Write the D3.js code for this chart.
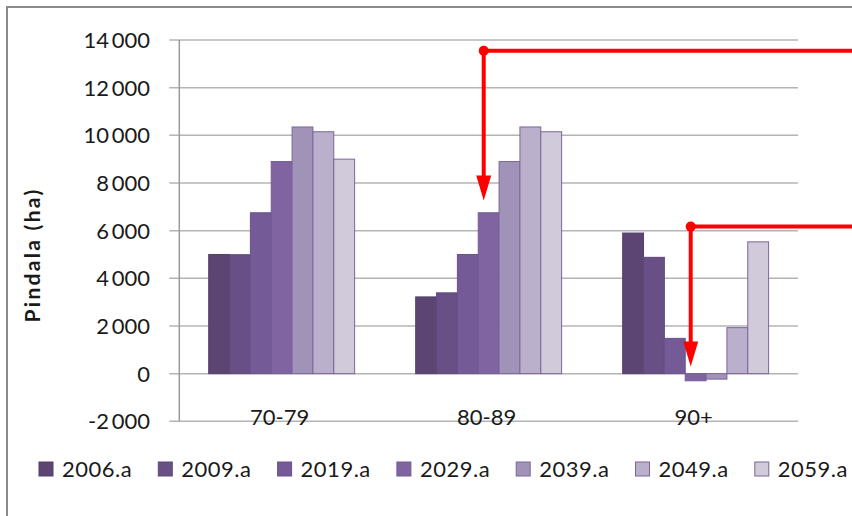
<!DOCTYPE html>
<html>
<head>
<meta charset="utf-8">
<script src="https://cdn.jsdelivr.net/npm/d3@7"></script>
<style>
  body { margin: 0; background: #fff; }
  text { font-family: Lato, "Open Sans", sans-serif; fill: #1a1a1a; }
</style>
</head>
<body>
<div id="chart"></div>
<script>
// age classes on the x axis
var categories = ["70-79", "80-89", "90+"];
// one series per year
var seriesNames = ["2006.a", "2009.a", "2019.a", "2029.a", "2039.a", "2049.a", "2059.a"];
// area (ha) per year, order follows categories
var v2006 = [5000, 3220, 5900];
var v2009 = [4990, 3390, 4880];
var v2019 = [6750, 5000, 1480];
var v2029 = [8900, 6750, -300];
var v2039 = [10350, 8900, -230];
var v2049 = [10150, 10350, 1930];
var v2059 = [9000, 10150, 5530];
var yTicks = [-2000, 0, 2000, 4000, 6000, 8000, 10000, 12000, 14000];
// red annotation arrows (category, series, start value, tip value)
var arrowCats = ["80-89", "90+"];
var arrowSeries = ["2029.a", "2029.a"];
var arrowFrom = [13550, 6170];
var arrowTo = [7260, 300];

var allValues = [v2006, v2009, v2019, v2029, v2039, v2049, v2059];
var colors = ["#5c4573", "#684f86", "#745a96", "#8064a2", "#a193b8", "#bbb0cc", "#d1cadb"];
var strokes = ["#54406a", "#5f487a", "#6a5289", "#745b94", "#7d6599", "#7d6599", "#7d6599"];

var width = 852, height = 516;
var plot = {left: 179.3, right: 798, top: 40, bottom: 421.3};

var svg = d3.select("#chart").append("svg")
    .attr("width", width)
    .attr("height", height);

svg.append("rect").attr("width", width).attr("height", height).attr("fill", "#fff");

// outer chart border (runs off the right and bottom edge)
svg.append("rect")
    .attr("x", 7).attr("y", 7)
    .attr("width", 1000).attr("height", 1000)
    .attr("fill", "none")
    .attr("stroke", "#8a8a8a")
    .attr("stroke-width", 2);

var y = d3.scaleLinear().domain([-2000, 14000]).range([plot.bottom, plot.top]);
var x0 = d3.scaleBand().domain(categories).range([plot.left, plot.right])
    .paddingInner(0.295).paddingOuter(0.142);
var x1 = d3.scaleBand().domain(seriesNames).range([0, x0.bandwidth()]);

// gridlines + tick marks
svg.append("g").selectAll("line")
    .data(yTicks)
    .enter().append("line")
    .attr("x1", plot.left - 10)
    .attr("x2", plot.right)
    .attr("y1", d => y(d))
    .attr("y2", d => y(d))
    .attr("stroke", "#b4b4b4")
    .attr("stroke-width", 1.5);

// y tick labels
var fmt = d3.formatLocale({decimal: ",", thousands: "\u2009", grouping: [3]}).format(",");
svg.append("g").selectAll("text")
    .data(yTicks)
    .enter().append("text")
    .attr("x", 150)
    .attr("y", d => y(d))
    .attr("dy", "0.36em")
    .attr("text-anchor", "end")
    .style("font-size", "22px")
    .text(d => d < 0 ? "-" + fmt(-d) : fmt(d));

// bars
var series = seriesNames.map(function(name, i) {
  return {name: name, color: colors[i], stroke: strokes[i], values: allValues[i]};
});

svg.append("g").selectAll("g")
    .data(series)
    .enter().append("g")
    .attr("fill", d => d.color)
    .attr("stroke", d => d.stroke)
    .attr("stroke-width", 1)
    .selectAll("rect")
    .data(d => d.values.map((v, j) => ({cat: categories[j], name: d.name, value: v})))
    .enter().append("rect")
    .attr("x", d => x0(d.cat) + x1(d.name))
    .attr("width", x1.bandwidth())
    .attr("y", d => y(Math.max(0, d.value)))
    .attr("height", d => Math.abs(y(d.value) - y(0)));

// value axis line
svg.append("line")
    .attr("x1", plot.left).attr("x2", plot.left)
    .attr("y1", plot.top).attr("y2", plot.bottom)
    .attr("stroke", "#9a9a9a")
    .attr("stroke-width", 1.5);

// category labels
svg.append("g").selectAll("text")
    .data(categories)
    .enter().append("text")
    .attr("x", d => x0(d) + x0.bandwidth() / 2 - 2)
    .attr("y", 425)
    .attr("text-anchor", "middle")
    .style("font-size", "22px")
    .text(d => d);

// y axis title
svg.append("text")
    .attr("transform", "translate(40,255) rotate(-90)")
    .attr("text-anchor", "middle")
    .style("font-size", "21px")
    .style("font-weight", "bold")
    .style("letter-spacing", "2.3px")
    .text("Pindala (ha)");

// legend
var legend = svg.append("g").selectAll("g")
    .data(series)
    .enter().append("g")
    .attr("transform", (d, i) => "translate(" + (39 + i * 119.3) + ",462)");

legend.append("rect")
    .attr("width", 14).attr("height", 14)
    .attr("fill", d => d.color)
    .attr("stroke", d => d.stroke)
    .attr("stroke-width", 1);

legend.append("text")
    .attr("x", 23)
    .attr("y", 14.5)
    .style("font-size", "22px")
    .style("letter-spacing", "0.5px")
    .text(d => d.name);

// red arrows
var arrows = arrowCats.map(function(c, i) {
  return {x: x0(c) + x1(arrowSeries[i]) + 5.5, y1: y(arrowFrom[i]), y2: y(arrowTo[i])};
});

var ag = svg.append("g").selectAll("g").data(arrows).enter().append("g");

ag.append("line")
    .attr("x1", d => d.x).attr("x2", width + 10)
    .attr("y1", d => d.y1).attr("y2", d => d.y1)
    .attr("stroke", "#ff0000").attr("stroke-width", 4);

ag.append("line")
    .attr("x1", d => d.x).attr("x2", d => d.x)
    .attr("y1", d => d.y1).attr("y2", d => d.y2 - 24)
    .attr("stroke", "#ff0000").attr("stroke-width", 4);

ag.append("path")
    .attr("d", d => "M" + (d.x - 7.5) + "," + (d.y2 - 25) + "L" + (d.x + 7.5) + "," + (d.y2 - 25) + "L" + d.x + "," + d.y2 + "Z")
    .attr("fill", "#ff0000");

ag.append("circle")
    .attr("cx", d => d.x).attr("cy", d => d.y1)
    .attr("r", 5)
    .attr("fill", "#ff0000");
</script>
</body>
</html>
